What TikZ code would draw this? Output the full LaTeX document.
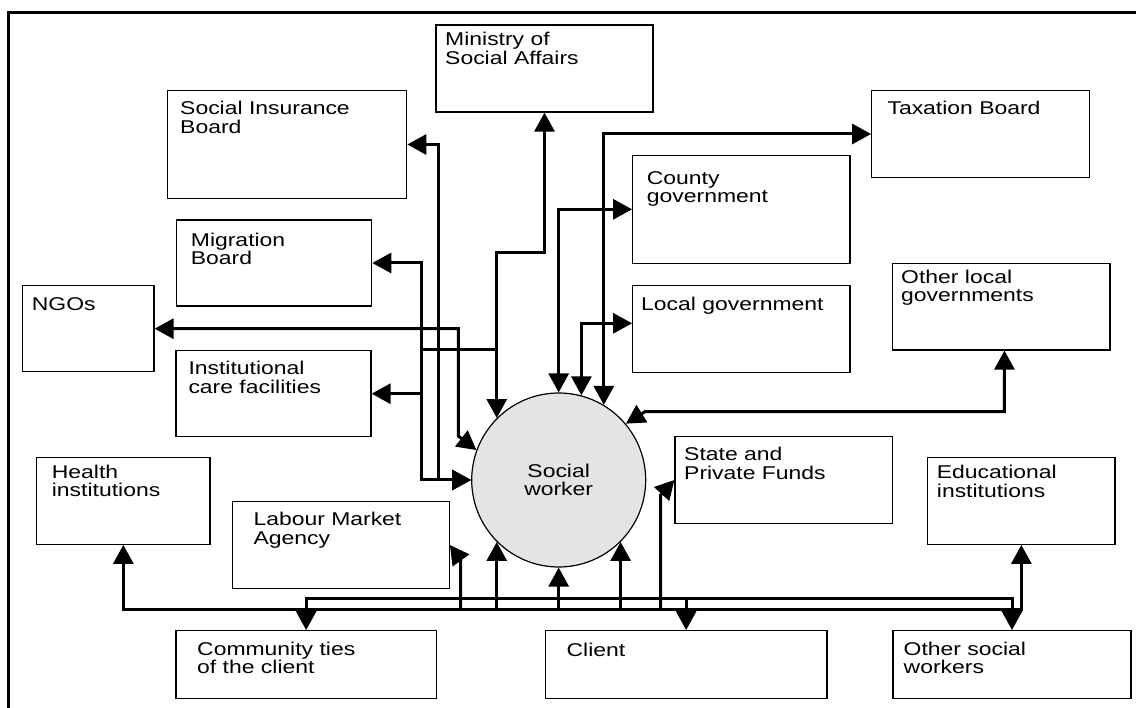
\documentclass[tikz,border=0pt]{standalone}
\usepackage{fontspec}
\setmainfont{Liberation Sans}[FakeStretch=1.24]
\usetikzlibrary{arrows.meta}
\definecolor{swfill}{RGB}{228,228,228}
\tikzset{
  box/.style={draw=black, line width=1.2pt, rectangle, inner sep=0pt},
  txt/.style={anchor=base west, align=left, inner sep=0pt, font=\fontsize{18.5}{18.3}\selectfont},
  conn/.style={line width=3pt, >={Triangle[length=19pt,width=20pt]}},
}
\newcommand\bx[5]{\node[box, minimum width={#4pt-#2pt}, minimum height={#5pt-#3pt}] (#1) at ({(#2+#4)/2},{(#3+#5)/2}) {};}
% one-line label: x, baseline y
\newcommand\tx[4]{\node[txt] (#1) at (#2,#3) {#4};}
% two-line label: x, first baseline y (node base is the last line)
\newcommand\tw[4]{\node[txt] (#1) at (#2,{#3+18.3}) {#4};}
\begin{document}
\begin{tikzpicture}[x=1pt,y=-1pt]
\useasboundingbox (0,0) rectangle (1136,708);
\draw[line width=3pt] (8.3,708) -- (8.3,12.3) -- (1136,12.3);
% boxes
\bx{min}{436}{25}{653}{112}
\bx{sib}{167.3}{90.7}{406.7}{198.3}
\bx{mig}{176.7}{220}{371.7}{306}
\bx{ngo}{22.7}{285.7}{154}{371.7}
\bx{inst}{176}{350.7}{371}{436.7}
\bx{hlth}{36.7}{457.7}{210}{544.3}
\bx{lab}{232.3}{501.7}{449.3}{588.3}
\bx{comm}{176}{630.7}{436.3}{698.7}
\bx{cli}{545.3}{630.7}{827}{698.7}
\bx{osw}{893}{630.7}{1131}{698.7}
\bx{funds}{675}{436.7}{892.7}{523.3}
\bx{edu}{927.7}{457.7}{1115}{544.3}
\bx{tax}{871.7}{90.7}{1089.3}{177.3}
\bx{county}{632.7}{155.3}{850}{263.3}
\bx{loc}{632.7}{285.7}{850}{372.3}
\bx{oloc}{892.3}{263.3}{1110}{350}
% labels
\tw{tmin}{445}{46}{Ministry of\\Social Affairs}
\tw{tsib}{180}{115}{Social Insurance\\Board}
\tw{tmig}{190.7}{246.7}{Migration\\Board}
\tx{tngo}{31.7}{310.7}{NGOs}
\tw{tinst}{188.3}{375}{Institutional\\care facilities}
\tw{thlth}{51.7}{478.3}{Health\\institutions}
\tw{tlab}{253.3}{526}{Labour Market\\Agency}
\tw{tcomm}{197}{655}{Community ties\\of the client}
\tx{tcli}{566.4}{656.7}{Client}
\tw{tosw}{903.5}{655}{Other social\\workers}
\tw{tfunds}{684}{461}{State and\\Private Funds}
\tw{tedu}{936.7}{479}{Educational\\institutions}
\tx{ttax}{887.3}{115}{Taxation Board}
\tw{tcounty}{646.7}{184.3}{County\\government}
\tx{tloc}{641}{310.7}{Local government}
\tw{toloc}{901}{283.3}{Other local\\governments}
% social worker
\node[circle, draw=black, line width=1.2pt, fill=swfill, minimum size=174pt, inner sep=0pt, align=center, font=\fontsize{18.5}{18.3}\selectfont] (sw) at (558.7,480) {Social\\worker};
% connectors
\draw[conn,<->] (min.south) |- (sw.135 |- 0,253) -- (sw.135);
\draw[conn,<->] (sib.east) -| (438.5,480) -- (sw.west);
\draw[conn,<->] (mig.east) -| (421.7,480) -- (sw.west);
\draw[conn,<-] (inst.east) -- (421.7,393.7);
\draw[conn] (421.7,350) -- (sw.135 |- 0,350);
\draw[conn,<->] (ngo.east) -| (458.3,436) -- (sw.160);
\draw[conn,<->] (tax.west) -| (sw.59);
\draw[conn,<->] (county.west) -| (sw.north);
\draw[conn,<->] ([yshift=5.7pt]loc.west) -| (sw.75);
\draw[conn,<->] ([xshift=3.3pt]oloc.south) |- (645,411.7) -- (sw.40);
\draw[conn,<->] (hlth.south) |- (edu.south |- 0,609.3) -- (edu.south);
\draw[conn,<->] (comm.north) |- (osw.north |- 0,598.3) -- (osw.north);
\draw[conn,->] (cli.north |- 0,598.3) -- (cli.north);
\draw[conn,->] (sw.225 |- 0,609.3) -- (sw.225);
\draw[conn,->] (sw.south |- 0,609.3) -- (sw.south);
\draw[conn,->] (sw.315 |- 0,609.3) -- (sw.315);
\draw[conn,->] (660.7,609.3) -- (660.7,495) -- (funds.west);
\draw[conn,->] (460.7,609.3) -- (460.7,560) -- (lab.east);
\end{tikzpicture}
\end{document}
